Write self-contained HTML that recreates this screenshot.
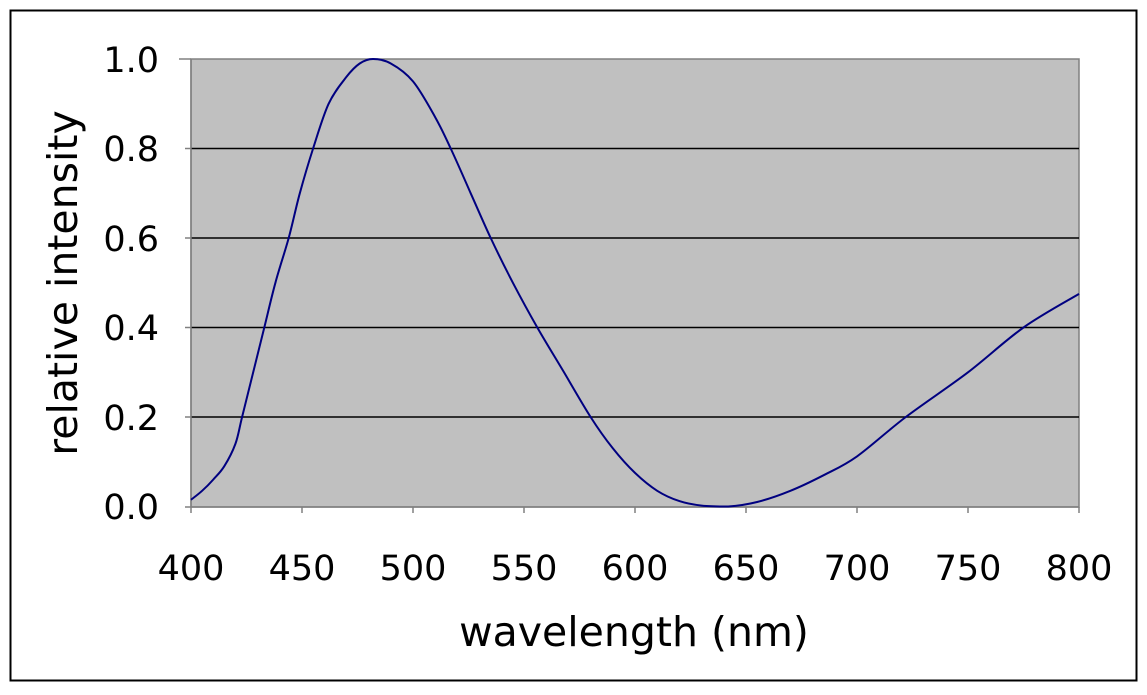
<!DOCTYPE html>
<html><head><meta charset="utf-8"><style>
html,body{margin:0;padding:0;background:#fff;}
svg text{font-family:"DejaVu Sans","Liberation Sans",sans-serif;fill:#000;}
</style></head><body>
<svg id="s" width="1147" height="690" viewBox="0 0 1147 690" xmlns="http://www.w3.org/2000/svg">
<rect x="0" y="0" width="1147" height="690" fill="#fff"/>
<rect x="10.5" y="10.5" width="1126" height="670" fill="none" stroke="#000" stroke-width="2"/>
<rect x="191" y="59" width="888" height="448" fill="#c0c0c0" stroke="#808080" stroke-width="1.5"/>
<g stroke="#000" stroke-width="1.5">
<line x1="191" y1="148.5" x2="1079" y2="148.5"/>
<line x1="191" y1="238" x2="1079" y2="238"/>
<line x1="191" y1="327.5" x2="1079" y2="327.5"/>
<line x1="191" y1="417" x2="1079" y2="417"/>
</g>
<g stroke="#808080" stroke-width="1.5">
<line x1="191" y1="59" x2="191" y2="513"/>
<line x1="185" y1="507" x2="1079" y2="507"/>
<line x1="179" y1="59" x2="191" y2="59"/><line x1="185" y1="148.5" x2="191" y2="148.5"/><line x1="185" y1="238" x2="191" y2="238"/><line x1="185" y1="327.5" x2="191" y2="327.5"/><line x1="185" y1="417" x2="191" y2="417"/>
<line x1="302" y1="507" x2="302" y2="513"/><line x1="413" y1="507" x2="413" y2="513"/><line x1="524" y1="507" x2="524" y2="513"/><line x1="635" y1="507" x2="635" y2="513"/><line x1="746" y1="507" x2="746" y2="513"/><line x1="857" y1="507" x2="857" y2="513"/><line x1="968" y1="507" x2="968" y2="513"/><line x1="1079" y1="507" x2="1079" y2="513"/>
</g>
<g font-size="35" text-anchor="end">
<text x="159" y="72">1.0</text><text x="159" y="161">0.8</text><text x="159" y="251">0.6</text><text x="159" y="340">0.4</text><text x="159" y="430">0.2</text><text x="159" y="519">0.0</text>
</g>
<g font-size="35" text-anchor="middle">
<text x="191" y="580">400</text><text x="302" y="580">450</text><text x="413" y="580">500</text><text x="524" y="580">550</text><text x="635" y="580">600</text><text x="746" y="580">650</text><text x="857" y="580">700</text><text x="968" y="580">750</text><text x="1079" y="580">800</text>
</g>
<text x="634" y="646" font-size="41" text-anchor="middle">wavelength (nm)</text>
<text transform="translate(77,283) rotate(-90)" font-size="41" text-anchor="middle">relative intensity</text>
<path id="c" fill="none" stroke="#000080" stroke-width="2"/>
</svg>
<script>
var d=[[400,0.015],[405,0.035],[410,0.06],[415,0.09],[420,0.14],[423,0.2],[428,0.3],[433,0.4],[438,0.5],[444,0.6],[449,0.7],[455,0.8],[462,0.9],[470,0.96],[476,0.99],[482,1.0],[490,0.99],[500,0.95],[510,0.87],[517,0.8],[526,0.7],[535,0.6],[545,0.5],[556,0.4],[568,0.3],[580,0.2],[590,0.13],[600,0.075],[610,0.035],[620,0.012],[630,0.002],[642,0],[655,0.01],[670,0.035],[685,0.07],[700,0.112],[722,0.2],[750,0.3],[775,0.4],[800,0.475]];
var P=d.map(function(a){return [191+(a[0]-400)*2.22,506.5-a[1]*447.5];});
var s="M"+P[0][0].toFixed(1)+","+P[0][1].toFixed(1);
for(var i=0;i<P.length-1;i++){var p0=P[Math.max(i-1,0)],p1=P[i],p2=P[i+1],p3=P[Math.min(i+2,P.length-1)];
var c1=[p1[0]+(p2[0]-p0[0])/6,p1[1]+(p2[1]-p0[1])/6],c2=[p2[0]-(p3[0]-p1[0])/6,p2[1]-(p3[1]-p1[1])/6];
c1[1]=Math.min(c1[1],506.5);c2[1]=Math.min(c2[1],506.5);c1[1]=Math.max(c1[1],59);c2[1]=Math.max(c2[1],59);
s+=" C"+c1[0].toFixed(1)+","+c1[1].toFixed(1)+" "+c2[0].toFixed(1)+","+c2[1].toFixed(1)+" "+p2[0].toFixed(1)+","+p2[1].toFixed(1);}
document.getElementById("c").setAttribute("d",s);
</script>
</body></html>
